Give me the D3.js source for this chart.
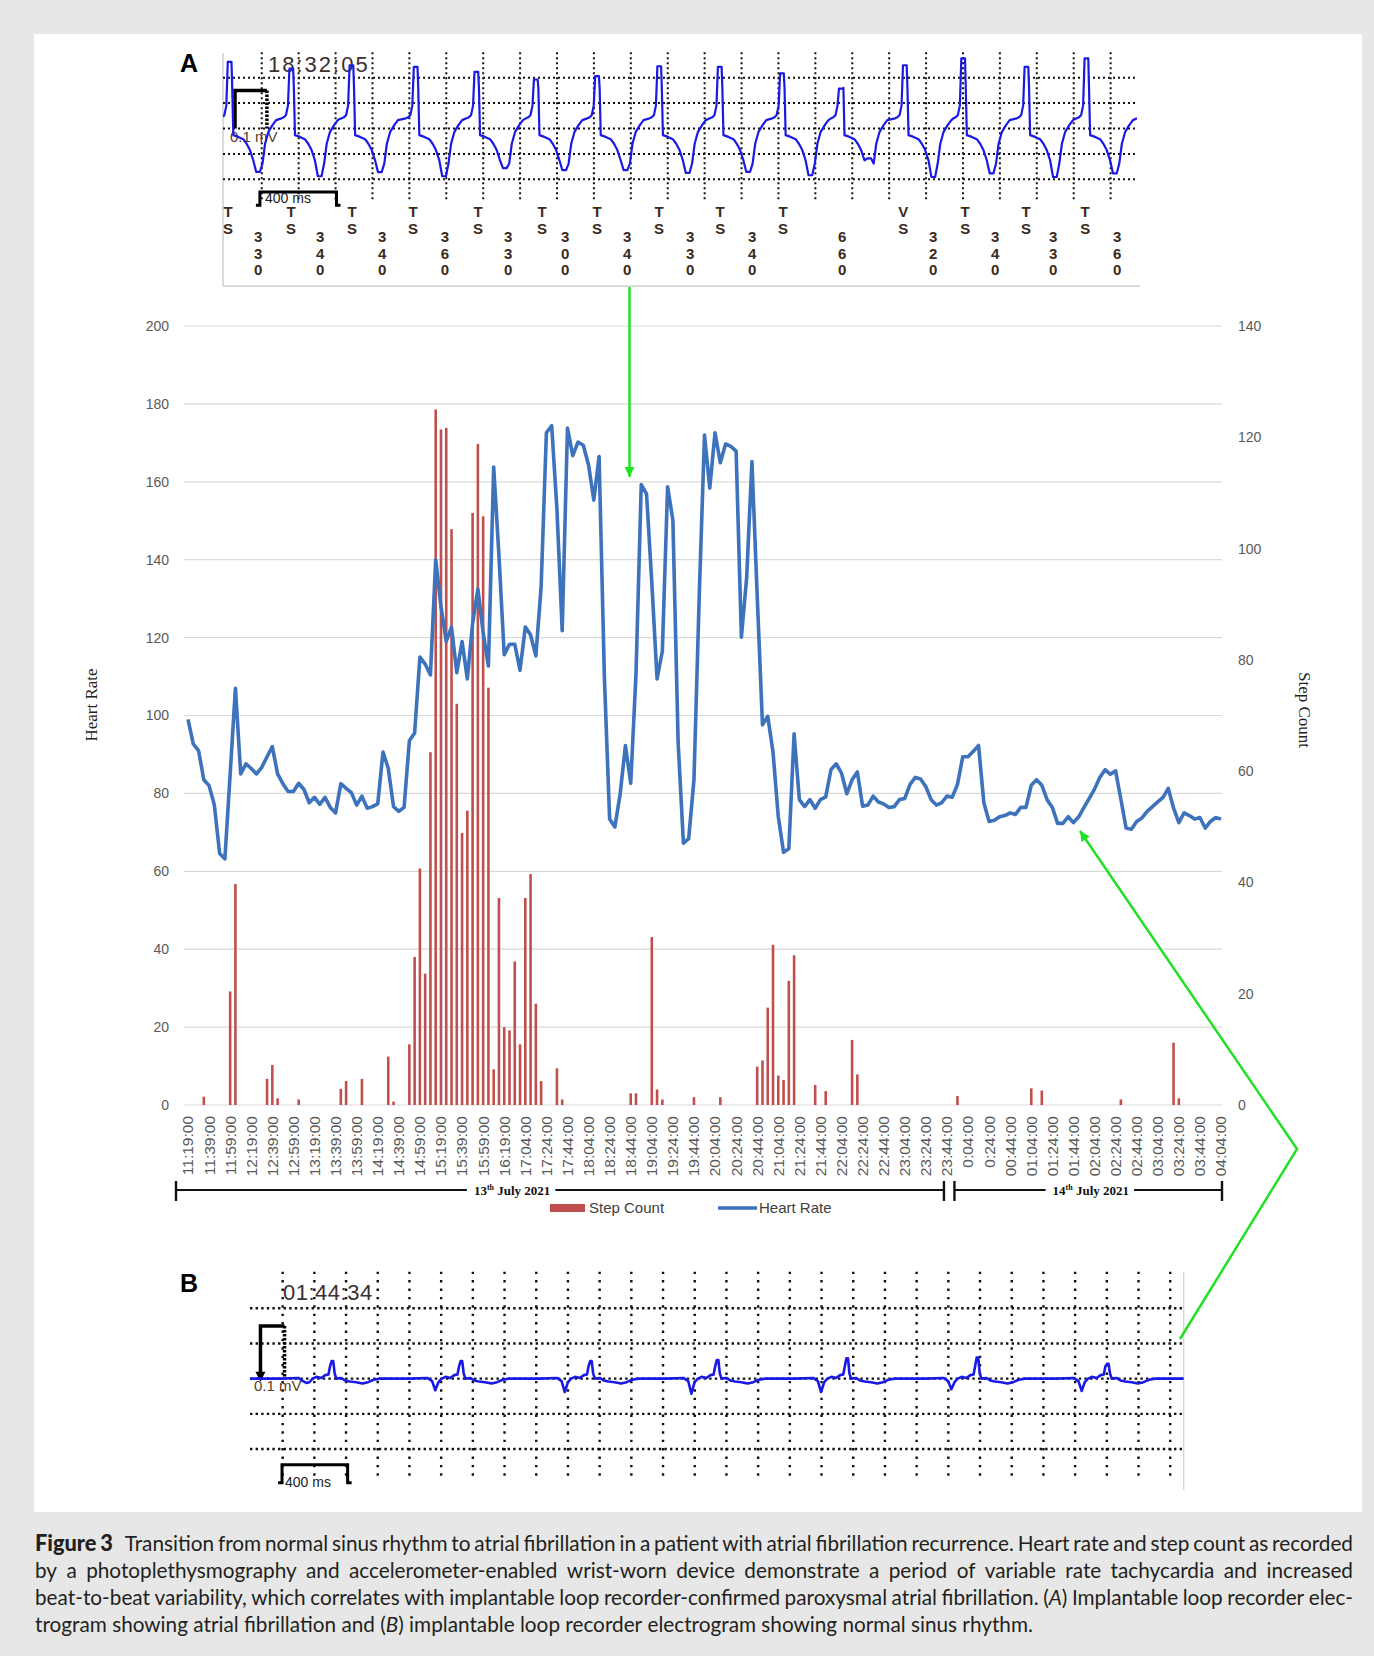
<!DOCTYPE html>
<html>
<head>
<meta charset="utf-8">
<script src="https://cdnjs.cloudflare.com/ajax/libs/d3/7.8.5/d3.min.js"></script>
<style>
  body { margin: 0; background: #e6e7e6; }
  svg { display: block; }
</style>
</head>
<body>
<svg id="fig" width="1374" height="1656"></svg>
<script>
// ---------- data : main chart ----------
var xLabels = ["11:19:00","11:39:00","11:59:00","12:19:00","12:39:00","12:59:00","13:19:00","13:39:00",
  "13:59:00","14:19:00","14:39:00","14:59:00","15:19:00","15:39:00","15:59:00","16:19:00","17:04:00",
  "17:24:00","17:44:00","18:04:00","18:24:00","18:44:00","19:04:00","19:24:00","19:44:00","20:04:00",
  "20:24:00","20:44:00","21:04:00","21:24:00","21:44:00","22:04:00","22:24:00","22:44:00","23:04:00",
  "23:24:00","23:44:00","0:04:00","0:24:00","00:44:00","01:04:00","01:24:00","01:44:00","02:04:00",
  "02:24:00","02:44:00","03:04:00","03:24:00","03:44:00","04:04:00"];

// one reading every 5 min, label on every 4th reading
var heartRate = [
  99,92.7,91,83.5,82,77,64.6,63.2,85,107,
  85,87.6,86.4,85,86.7,89.4,92,85,82.5,80.5,
  80.5,82.6,81,77.6,79,77.2,79,76.4,75,82.5,
  81.3,80.2,77,79.3,76.2,76.6,77.3,90.6,86.4,76.6,
  75.4,76.4,93.5,95.5,115,113.2,110.4,140,128,119,
  122.7,111,119,109.4,123.6,132.5,121.3,112.7,163.8,141,
  115.6,118.3,118.3,111.6,122.7,120.7,115.3,133,172.6,174.4,
  153,121.8,173.8,166.7,170.2,169.4,164.3,155.3,166.5,110,
  73.4,71.4,79.9,92.3,82.6,110.6,159.3,156.9,134.2,109.4,
  116.5,158.7,150.2,93,67.2,68.4,83.5,130.7,172,158.4,
  172.6,164.9,169.7,169.1,167.9,120.1,135.4,165.2,130.7,97.6,
  99.8,90.6,74,64.9,65.8,95.3,78.4,76.6,78.4,76.2,
  78.4,79.1,86.1,87.6,85.2,79.9,83.5,85.5,76.7,77,
  79.3,77.8,77.3,76.4,76.6,78.4,78.7,82.3,84.1,83.7,
  81.7,78.4,77,77.6,79.3,79,82.3,89.4,89.4,90.8,
  92.3,77.6,72.8,73.1,74,74.3,75,74.6,76.4,76.4,
  82.1,83.5,82.1,78.4,76.4,72.3,72.3,74,72.5,74,
  76.4,78.7,81.1,84.1,86.1,84.9,85.8,78.5,71.1,70.8,
  72.8,73.7,75.4,76.6,77.8,79,81.3,76.2,72.5,75,
  74.3,73.4,73.8,71.1,72.8,73.8,73.4];

var stepCount = [
  0,0,0,1.5,0,0,0,0,20.4,39.7,
  0,0,0,0,0,4.7,7.2,1.2,0,0,
  0,1.0,0,0,0,0,0,0,0,2.9,
  4.3,0,0,4.7,0,0,0,0,8.7,0.6,
  0,0,10.9,26.6,42.5,23.6,63.4,125,121.4,121.7,
  103.5,72.1,48.9,52.9,106.4,118.8,105.8,75,6.4,37.2,
  14,13.4,25.8,10.9,37.2,41.5,18.2,4.3,0,0,
  6.6,1.0,0,0,0,0,0,0,0,0,
  0,0,0,0,2.1,2.1,0,0,30.2,2.8,
  1.0,0,0,0,0,0,1.4,0,0,0,
  0,1.4,0,0,0,0,0,0,6.9,8.0,
  17.5,28.8,5.3,4.5,22.3,26.9,0,0,0,3.6,
  0,2.5,0,0,0,0,11.7,5.5,0,0,
  0,0,0,0,0,0,0,0,0,0,
  0,0,0,0,0,0,1.6,0,0,0,
  0,0,0,0,0,0,0,0,0,0,
  3,0,2.6,0,0,0,0,0,0,0,
  0,0,0,0,0,0,0,1.0,0,0,
  0,0,0,0,0,0,0,11.2,1.2,0,
  0,0,0,0,0,0,0];

var hrTicks = [0,20,40,60,80,100,120,140,160,180,200];
var stepTicks = [0,20,40,60,80,100,120,140];
var dateSpans = [["13", 0, 144, 61.5], ["14", 144, 196, 171.3]];   // day, first idx, last idx, label idx

// ---------- data : electrograms (time in ms, amplitude in grid divisions) ----------
// beat shape around R wave; "R" / "T" take each beat's own values
var templateA = [[-55,0.4],[-45,0.43],[-31,0.52],[-20,0.9],[-12,"R"],[8,"R"],[12,1.6],[18,-0.26],
  [45,-0.33],[72,-0.42],[90,-0.6],[108,-0.85],[126,-1.25],[142,"T"],[162,"T"],[176,-1.38],
  [190,-0.6],[208,-0.13],[230,0.13],[250,0.33]];
var beatsA = [[38,2.62,-1.71],[372,2.36,-1.88],[698,2.49,-1.72],[1046,2.43,-1.88],[1375,2.23,-1.56],
  [1697,1.93,-1.64],[2029,2.06,-1.64],[2366,2.45,-1.75],[2694,2.43,-1.71],[3031,2.17,-1.84],
  [3350,1.57,-1.18],[3697,2.49,-1.91],[4013,2.76,-1.77],[4356,2.43,-1.91],[4681,2.76,-1.77]];
var markersA = [[27,"T"],[369,"T"],[699,"T"],[1030,"T"],[1382,"T"],[1729,"T"],[2027,"T"],[2363,"T"],
  [2694,"T"],[3035,"T"],[3686,"V"],[4022,"T"],[4352,"T"],[4672,"T"]];
var intervalsA = [[190,"330"],[526,"340"],[862,"340"],[1203,"360"],[1545,"330"],[1854,"300"],
  [2190,"340"],[2531,"330"],[2867,"340"],[3355,"660"],[3848,"320"],[4184,"340"],[4499,"330"],[4846,"360"]];

var templateB = [[-330,0],[-215,0.02],[-185,-0.07],[-165,"D"],[-145,-0.1],[-125,0],[-100,0.05],
  [-70,0.02],[-45,0.1],[-25,0.12],[-15,0.35],[-5,"P"],[5,"P"],[14,0.15],[25,0],[55,0.02],[80,-0.05],
  [110,-0.08],[150,-0.1],[190,-0.14],[225,-0.1],[260,-0.03],[300,0],[420,0]];
var beatsB = [[520,0.5,-0.12],[1334,0.5,-0.33],[2151,0.5,-0.38],[2950,0.53,-0.43],[3768,0.58,-0.38],
  [4590,0.6,-0.3],[5412,0.42,-0.35]];

var captionLines = [
  "^Figure ^3 Transition from normal sinus rhythm to atrial fibrillation in a patient with atrial fibrillation recurrence. Heart rate and step count as recorded",
  "by a photoplethysmography and accelerometer-enabled wrist-worn device demonstrate a period of variable rate tachycardia and increased",
  "beat-to-beat variability, which correlates with implantable loop recorder-confirmed paroxysmal atrial fibrillation. (*A*) Implantable loop recorder elec-",
  "trogram showing atrial fibrillation and (*B*) implantable loop recorder electrogram showing normal sinus rhythm."];

// ---------- page ----------
var svg = d3.select("#fig");
svg.append("rect").attr("width", 1374).attr("height", 1656).attr("fill", "#e6e7e6");
svg.append("rect").attr("x", 34).attr("y", 34).attr("width", 1328).attr("height", 1478).attr("fill", "#fff");

var sans = "'Liberation Sans', Arial, sans-serif";
var serif = "'Liberation Serif', 'Times New Roman', serif";
var green = "#22e022";

// ---------- main chart ----------
var x = d3.scalePoint().domain(d3.range(heartRate.length)).range([188, 1221]);
var xAt = i => x.range()[0] + i * x.step();   // position for fractional indices
var yHR = d3.scaleLinear().domain([0, 200]).range([1105, 326]);
var ySt = d3.scaleLinear().domain([0, 140]).range([1105, 326]);

var chart = svg.append("g");

chart.selectAll(".grid").data(hrTicks).enter().append("line")
  .attr("x1", 184).attr("x2", 1222)
  .attr("y1", d => yHR(d)).attr("y2", d => yHR(d))
  .attr("stroke", "#d9d9d9").attr("stroke-width", 1.2);

chart.selectAll(".bar").data(stepCount.map((s, i) => [i, s]).filter(d => d[1] > 0)).enter().append("rect")
  .attr("x", d => x(d[0]) - 1.3).attr("width", 2.6)
  .attr("y", d => ySt(d[1])).attr("height", d => ySt(0) - ySt(d[1]))
  .attr("fill", "#c0504d");

chart.append("path").datum(heartRate)
  .attr("d", d3.line().x((d, i) => x(i)).y(d => yHR(d)))
  .attr("fill", "none").attr("stroke", "#3d72bc").attr("stroke-width", 3.6)
  .attr("stroke-linejoin", "round");

var yl = chart.append("g").attr("transform", "translate(185,0)")
  .call(d3.axisLeft(yHR).tickValues(hrTicks).tickSize(0).tickPadding(16));
var yr = chart.append("g").attr("transform", "translate(1222,0)")
  .call(d3.axisRight(ySt).tickValues(stepTicks).tickSize(0).tickPadding(16));
[yl, yr].forEach(function(a) {
  a.select(".domain").remove();
  a.selectAll("text").attr("font-family", sans).attr("font-size", 14).attr("fill", "#595959");
});

chart.selectAll(".xl").data(xLabels).enter().append("text")
  .attr("transform", (d, k) => "translate(" + x(k * 4) + ",1116) rotate(-90)")
  .attr("dy", "0.35em").attr("text-anchor", "end")
  .attr("font-family", sans).attr("font-size", 15.5).attr("fill", "#595959")
  .text(d => d);

chart.append("text").attr("transform", "translate(97,705) rotate(-90)")
  .attr("text-anchor", "middle").attr("font-family", serif).attr("font-size", 17).attr("fill", "#222")
  .text("Heart Rate");
chart.append("text").attr("transform", "translate(1299,710) rotate(90)")
  .attr("text-anchor", "middle").attr("font-family", serif).attr("font-size", 17).attr("fill", "#222")
  .text("Step Count");

// date brackets
var yB0 = 1190;
dateSpans.forEach(function(s, k) {
  var x0 = k === 0 ? xAt(s[1]) - 12 : xAt(s[1]) + 7.5;
  var x1 = k === 0 ? xAt(s[2]) - 3 : xAt(s[2]) + 1;
  var cx = xAt(s[3]);
  var t = chart.append("text").attr("x", cx).attr("y", yB0 + 4.5).attr("text-anchor", "middle")
    .attr("font-family", serif).attr("font-size", 13).attr("font-weight", "bold").attr("fill", "#111");
  t.append("tspan").text(s[0]);
  t.append("tspan").attr("font-size", 8).attr("dy", -5).text("th");
  t.append("tspan").attr("dy", 5).text(" July 2021");
  var w = t.node().getComputedTextLength();
  var segs = [[x0, cx - w / 2 - 7], [cx + w / 2 + 5, x1]];
  segs.forEach(function(sg) {
    chart.append("line").attr("x1", sg[0]).attr("x2", sg[1]).attr("y1", yB0).attr("y2", yB0)
      .attr("stroke", "#111").attr("stroke-width", 2.2);
  });
  [x0, x1].forEach(function(px) {
    chart.append("line").attr("x1", px).attr("x2", px).attr("y1", 1181).attr("y2", 1201)
      .attr("stroke", "#111").attr("stroke-width", 2.4);
  });
});

// legend
chart.append("rect").attr("x", 550).attr("y", 1204).attr("width", 35).attr("height", 8).attr("fill", "#c0504d");
chart.append("text").attr("x", 589).attr("y", 1213).attr("font-family", sans).attr("font-size", 15)
  .attr("fill", "#404040").text("Step Count");
chart.append("line").attr("x1", 718).attr("x2", 757).attr("y1", 1208).attr("y2", 1208)
  .attr("stroke", "#3d72bc").attr("stroke-width", 3.5);
chart.append("text").attr("x", 759).attr("y", 1213).attr("font-family", sans).attr("font-size", 15)
  .attr("fill", "#404040").text("Heart Rate");

// ---------- electrogram helper ----------
function buildTrace(beats, template, keys, tEnd, v0, v1) {
  var pts = [[0, v0]];
  beats.forEach(function(b) {
    template.forEach(function(p) {
      var v = p[1] === keys[0] ? b[1] : p[1] === keys[1] ? b[2] : p[1];
      pts.push([b[0] + p[0], v]);
    });
  });
  pts.push([tEnd, v1]);
  return pts.filter(p => p[0] >= 0 && p[0] <= tEnd).sort((a, b) => a[0] - b[0]);
}

function drawGrid(g, xs, ys, vlines, hlines, vr, dashV, dashH, w) {
  g.selectAll(".vg").data(vlines).enter().append("line")
    .attr("x1", d => xs(d)).attr("x2", d => xs(d)).attr("y1", ys(vr[0])).attr("y2", ys(vr[1]))
    .attr("stroke", "#111").attr("stroke-width", w).attr("stroke-dasharray", dashV);
  g.selectAll(".hg").data(hlines).enter().append("line")
    .attr("x1", xs.range()[0]).attr("x2", xs.range()[1]).attr("y1", d => ys(d)).attr("y2", d => ys(d))
    .attr("stroke", "#111").attr("stroke-width", w).attr("stroke-dasharray", dashH);
}

var brown = "#5c3d24";

// ---------- panel A ----------
var endA = 4953;
var xA = d3.scaleLinear().domain([0, endA]).range([223, 1137]);
var yA = d3.scaleLinear().domain([-2, 2]).range([179.3, 77.7]);
var gA = svg.append("g");

gA.append("line").attr("x1", 223).attr("x2", 223).attr("y1", 53).attr("y2", 286).attr("stroke", "#cfcfcf").attr("stroke-width", 1.5);
gA.append("line").attr("x1", 223).attr("x2", 1140).attr("y1", 286).attr("y2", 286).attr("stroke", "#cfcfcf").attr("stroke-width", 1.5);

drawGrid(gA, xA, yA, d3.range(210, endA, 200), [-2, -1, 0, 1, 2], [3, -2.8], "2,3", "2,3", 2);

gA.append("text").attr("x", 180).attr("y", 72).attr("font-family", sans).attr("font-weight", "bold")
  .attr("font-size", 25).attr("fill", "#000").text("A");
gA.append("text").attr("x", 268).attr("y", 72).attr("font-family", sans).attr("font-size", 22)
  .attr("letter-spacing", 2).attr("fill", "#3b2f2f").text("18:32:05");

// calibration 0.1 mV and 400 ms
gA.append("path").attr("d", "M" + xA(65) + "," + yA(0) + "V" + yA(1.5) + "H" + xA(238))
  .attr("fill", "none").attr("stroke", "#000").attr("stroke-width", 3.5);
gA.append("line").attr("x1", xA(238)).attr("x2", xA(238)).attr("y1", yA(1.5)).attr("y2", yA(0))
  .attr("stroke", "#000").attr("stroke-width", 3.5).attr("stroke-dasharray", "2.5,1.5");
gA.append("text").attr("x", 230).attr("y", 141.5).attr("font-family", sans).attr("font-size", 15)
  .attr("fill", brown).text("0.1 mV");
gA.append("path").attr("d", "M" + (xA(200) - 4) + "," + yA(-3.02) + "H" + xA(200) + "V" + yA(-2.5) +
    "H" + xA(615) + "V" + yA(-3.02) + "H" + (xA(615) + 4))
  .attr("fill", "none").attr("stroke", "#000").attr("stroke-width", 3);
gA.append("text").attr("x", 265).attr("y", 202.5).attr("font-family", sans).attr("font-size", 14)
  .attr("fill", "#222").text("400 ms");

gA.append("clipPath").attr("id", "clipA").append("rect")
  .attr("x", xA(0)).attr("y", 40).attr("width", xA(endA) - xA(0)).attr("height", 160);
gA.append("path").datum(buildTrace(beatsA, templateA, ["R", "T"], endA, 0.46, 0.4))
  .attr("clip-path", "url(#clipA)")
  .attr("d", d3.line().x(d => xA(d[0])).y(d => yA(d[1])))
  .attr("fill", "none").attr("stroke", "#1a1ae6").attr("stroke-width", 2.2).attr("stroke-linejoin", "round");

var mk = gA.append("g").attr("font-family", sans).attr("font-weight", "bold").attr("font-size", 15)
  .attr("fill", "#3a2a1c").attr("text-anchor", "middle");
markersA.forEach(function(m) {
  mk.append("text").attr("x", xA(m[0])).attr("y", 217).text(m[1]);
  mk.append("text").attr("x", xA(m[0])).attr("y", 233.5).text("S");
});
intervalsA.forEach(function(iv) {
  iv[1].split("").forEach(function(c, j) {
    mk.append("text").attr("x", xA(iv[0])).attr("y", 242 + j * 16.7).text(c);
  });
});

// ---------- panel B ----------
var endB = 5891;
var xB = d3.scaleLinear().domain([0, endB]).range([250, 1183.7]);
var yBs = d3.scaleLinear().domain([-2, 2]).range([1449, 1308.3]);
var gB = svg.append("g");

gB.append("line").attr("x1", 1183.7).attr("x2", 1183.7).attr("y1", 1272).attr("y2", 1490)
  .attr("stroke", "#d6d6d6").attr("stroke-width", 1.5);
drawGrid(gB, xB, yBs, d3.range(206, endB, 200), [-2, -1, 0, 1, 2], [3.04, -2.88], "2.4,6", "2.4,3.2", 2.4);

gB.append("text").attr("x", 180).attr("y", 1292).attr("font-family", sans).attr("font-weight", "bold")
  .attr("font-size", 25).attr("fill", "#000").text("B");
gB.append("text").attr("x", 283).attr("y", 1300).attr("font-family", sans).attr("font-size", 22)
  .attr("letter-spacing", 0.5).attr("fill", "#3b2f2f").text("01:44:34");

gB.append("path").attr("d", "M" + xB(66) + "," + yBs(0) + "V" + yBs(1.5) + "H" + xB(218))
  .attr("fill", "none").attr("stroke", "#000").attr("stroke-width", 3.5);
gB.append("line").attr("x1", xB(218)).attr("x2", xB(218)).attr("y1", yBs(1.5)).attr("y2", yBs(0))
  .attr("stroke", "#000").attr("stroke-width", 3.5).attr("stroke-dasharray", "2.5,1.5");
gB.append("path").attr("d", "M" + (xB(66) - 5) + "," + (yBs(0) - 7) + "H" + (xB(66) + 5) + "L" + xB(66) + "," + (yBs(0) + 3) + "Z")
  .attr("fill", "#000");
gB.append("text").attr("x", 254).attr("y", 1391).attr("font-family", sans).attr("font-size", 15)
  .attr("fill", brown).text("0.1 mV");
gB.append("path").attr("d", "M" + (xB(202) - 4) + "," + yBs(-2.96) + "H" + xB(202) + "V" + yBs(-2.45) +
    "H" + xB(616) + "V" + yBs(-2.96) + "H" + (xB(616) + 4))
  .attr("fill", "none").attr("stroke", "#000").attr("stroke-width", 3);
gB.append("text").attr("x", 285).attr("y", 1487).attr("font-family", sans).attr("font-size", 14)
  .attr("fill", "#222").text("400 ms");

gB.append("path").datum(buildTrace(beatsB, templateB, ["P", "D"], endB, 0, 0))
  .attr("d", d3.line().x(d => xB(d[0])).y(d => yBs(d[1])))
  .attr("fill", "none").attr("stroke", "#1a1ae6").attr("stroke-width", 2.6).attr("stroke-linejoin", "round");

// ---------- green arrows ----------
svg.append("defs").append("marker").attr("id", "arr").attr("viewBox", "0 0 10 10")
  .attr("refX", 10).attr("refY", 5).attr("markerWidth", 12).attr("markerHeight", 10)
  .attr("markerUnits", "userSpaceOnUse").attr("orient", "auto")
  .append("path").attr("d", "M0,0L10,5L0,10Z").attr("fill", green);
svg.append("path").attr("d", "M629.5,287V477").attr("stroke", green).attr("stroke-width", 2.5)
  .attr("fill", "none").attr("marker-end", "url(#arr)");
svg.append("path").attr("d", "M1180,1339L1297,1149L1080,831").attr("stroke", green).attr("stroke-width", 2.5)
  .attr("fill", "none").attr("marker-end", "url(#arr)");

// ---------- caption ----------
var capLeft = 35, capRight = 1353, capBase = [1551, 1578, 1605, 1632];
var cap = svg.append("g").attr("font-family", "Lato, 'Open Sans', sans-serif").attr("fill", "#231f20");

function makeWord(s, fs) {
  var t = cap.append("text").attr("font-size", fs);
  if (s[0] === "^") {
    t.attr("font-size", fs * 1.05).append("tspan").attr("font-weight", 900).text(s.slice(1));
  } else {
    s.split("*").forEach(function(p, k) {
      if (p) t.append("tspan").attr("font-style", k % 2 ? "italic" : "normal").text(p);
    });
  }
  return t;
}

var probe = captionLines[3].split(" ").map(w => makeWord(w, 20));
var sum4 = d3.sum(probe, t => t.node().getComputedTextLength());
var sp1 = cap.append("text").attr("font-size", 20).text("a a");
var sp2 = cap.append("text").attr("font-size", 20).text("aa");
var space20 = sp1.node().getComputedTextLength() - sp2.node().getComputedTextLength();
probe.forEach(t => t.remove()); sp1.remove(); sp2.remove();
var fs = 20 * 998 / (sum4 + space20 * (probe.length - 1));
var spaceW = space20 * fs / 20;

captionLines.forEach(function(line, li) {
  var words = line.split(" ").map(w => makeWord(w, fs));
  var widths = words.map(t => t.node().getComputedTextLength());
  var n = words.length, extra = li === 0 ? 8 : 0;
  var gap = spaceW, k = 1;
  if (li < 3) {
    gap = (capRight - capLeft - d3.sum(widths) - extra) / (n - 1);
    if (gap < spaceW * 0.6) {
      gap = spaceW * 0.6;
      k = (capRight - capLeft - extra - gap * (n - 1)) / d3.sum(widths);
    }
  }
  var cx = capLeft;
  words.forEach(function(t, i) {
    t.attr("x", cx).attr("y", capBase[li]);
    if (k < 1) t.attr("textLength", widths[i] * k).attr("lengthAdjust", "spacingAndGlyphs");
    cx += widths[i] * k + gap + (li === 0 && i === 1 ? extra : 0);
  });
});
</script>
</body>
</html>
